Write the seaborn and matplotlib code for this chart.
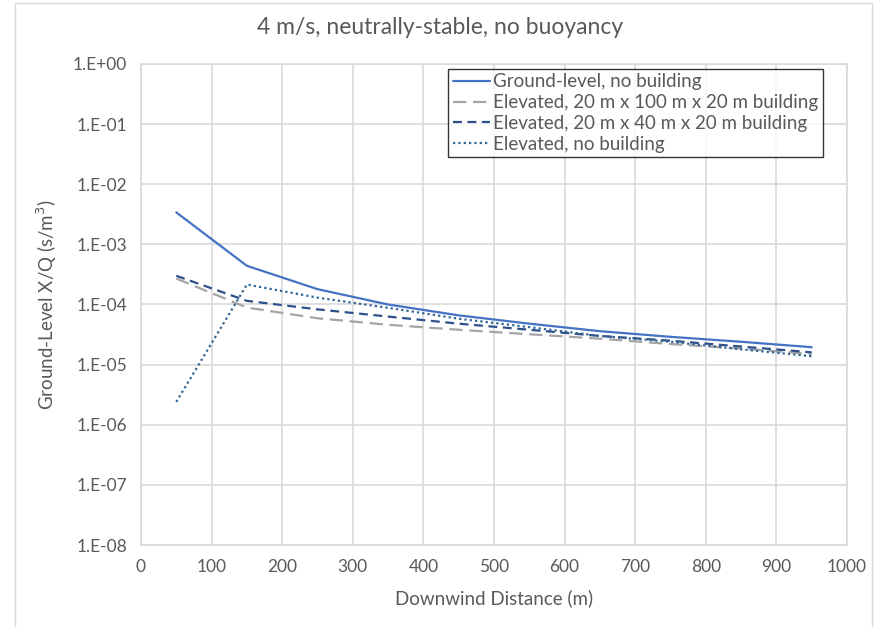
import numpy as np
import pandas as pd
import seaborn as sns
import matplotlib.pyplot as plt
from matplotlib.ticker import FixedLocator, FuncFormatter, MultipleLocator
from matplotlib.patches import Rectangle

# data
distance = [50, 150, 250, 350, 450, 550, 650, 750, 850, 950]
ground_no_bldg = [3.4e-3, 4.4e-4, 1.8e-4, 1.0e-4, 6.6e-5, 4.8e-5, 3.6e-5, 2.9e-5, 2.4e-5, 1.95e-5]
elev_bldg_100 = [2.7e-4, 8.9e-5, 5.9e-5, 4.6e-5, 3.8e-5, 3.2e-5, 2.7e-5, 2.2e-5, 1.85e-5, 1.5e-5]
elev_bldg_40 = [3.0e-4, 1.15e-4, 8.3e-5, 6.3e-5, 4.8e-5, 3.8e-5, 3.0e-5, 2.5e-5, 2.0e-5, 1.6e-5]
elev_no_bldg = [2.4e-6, 2.15e-4, 1.3e-4, 8.8e-5, 5.8e-5, 4.2e-5, 3.0e-5, 2.4e-5, 1.8e-5, 1.38e-5]

names = ['Ground-level, no building',
         'Elevated, 20 m x 100 m x 20 m building',
         'Elevated, 20 m x 40 m x 20 m building',
         'Elevated, no building']
series = [ground_no_bldg, elev_bldg_100, elev_bldg_40, elev_no_bldg]

df = pd.concat([pd.DataFrame({'x': distance, 'y': s, 'series': n}) for n, s in zip(names, series)])

colors = {names[0]: '#4472C4', names[1]: '#A5A5A5', names[2]: '#2F4F8A', names[3]: '#2E6496'}
dashes = {names[0]: '', names[1]: (6, 3), names[2]: (4, 2.5), names[3]: (1, 1.4)}

sns.set_style('white')
plt.rcParams['font.family'] = ['Lato', 'DejaVu Sans']
text_col = '#595959'

fig = plt.figure(figsize=(8.8, 6.27), dpi=100)
ax = fig.add_axes([141 / 880, 1 - 545 / 627, 706 / 880, 481 / 627])

sns.lineplot(data=df, x='x', y='y', hue='series', style='series',
             palette=colors, dashes=dashes, linewidth=1.6, ax=ax)

ax.set_yscale('log')
ax.set_xlim(0, 1000)
ax.set_ylim(1e-8, 1)
ax.xaxis.set_major_locator(MultipleLocator(100))
ax.yaxis.set_major_locator(FixedLocator([10.0 ** k for k in range(-8, 1)]))
ax.yaxis.set_minor_locator(FixedLocator([]))
ax.yaxis.set_major_formatter(FuncFormatter(lambda v, p: f"1.E{int(round(np.log10(v))):+03d}"))
ax.grid(True, color='#D9D9D9', linewidth=1.2)
for sp in ax.spines.values():
    sp.set_color('#D9D9D9')
    sp.set_linewidth(1.2)
ax.tick_params(length=0, labelsize=12.5, colors=text_col, pad=10)

ax.set_xlabel('Downwind Distance (m)', fontsize=13.5, color=text_col, labelpad=10)
ax.set_ylabel('Ground-Level X/Q (s/m$^3$)', fontsize=13.5, color=text_col, labelpad=10)
fig.text(0.5 + 0.0, 1 - 28 / 627, '4 m/s, neutrally-stable, no buoyancy',
         ha='center', va='center', fontsize=16.5, color=text_col)

leg = ax.legend(loc='upper right', bbox_to_anchor=(0.966, 0.99), fontsize=13.5,
                frameon=True, fancybox=False, borderpad=0.25, handlelength=2.0,
                handletextpad=0.15, labelspacing=0.2, borderaxespad=0)
leg.get_frame().set_edgecolor('black')
leg.get_frame().set_linewidth(1.0)
for t in leg.get_texts():
    t.set_color(text_col)

# chart-area border
fig.patches.append(Rectangle((15 / 880, -0.01), 857 / 880, 1 - 3 / 627 + 0.01,
                             transform=fig.transFigure, fill=False,
                             edgecolor='#D9D9D9', linewidth=1.0))

fig.savefig('out.png', dpi=100)
